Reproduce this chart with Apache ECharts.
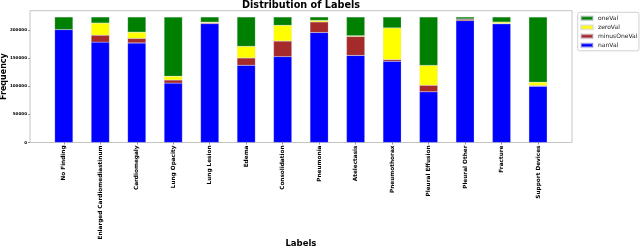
<!DOCTYPE html>
<html>
<head>
<meta charset="utf-8">
<script src="https://cdn.jsdelivr.net/npm/echarts@6/dist/echarts.min.js"></script>
<style>
html,body{margin:0;padding:0;background:#fff;}
#c{width:640px;height:248px;}
</style>
</head>
<body>
<div id="c"></div>
<script>
const categories = ['No Finding','Enlarged Cardiomediastinum','Cardiomegaly','Lung Opacity','Lung Lesion','Edema','Consolidation','Pneumonia','Atelectasis','Pneumothorax','Pleural Effusion','Pleural Other','Fracture','Support Devices'];
const nanVal      = [201033,178575,177211,105636,211470,137458,152792,195806,154971,144480, 90203,216922,211220,100197];
const minusOneVal = [     0, 12403,  8087,  5598,  1488, 12984, 27742, 18770, 33739,  3145, 11628,  2653,   642,  1079];
const zeroVal     = [     0, 21638, 11116,  6599,  1270, 20726, 28097,  2799,  1328, 56341, 35396,   316,  2512,  6137];
const oneVal      = [ 22381, 10798, 27000,105581,  9186, 52246, 14783,  6039, 33376, 19448, 86187,  3523,  9040,116001];
const yTicks = [0, 50000, 100000, 150000, 200000];
const yMax = 234585;

const FONT = 'DejaVu Sans';
const chart = echarts.init(document.getElementById('c'), null, {renderer: 'canvas'});

const barBorder = {borderColor: 'rgba(210,210,230,0.55)', borderWidth: 0.4};
function mk(name, data, color) {
  return {
    name: name, type: 'bar', stack: 'total', xAxisIndex: 1, yAxisIndex: 1,
    barWidth: '50%', data: data,
    itemStyle: Object.assign({color: color}, barBorder),
    emphasis: {disabled: true}, animation: false
  };
}

chart.setOption({
  animation: false,
  backgroundColor: '#ffffff',
  textStyle: {fontFamily: FONT},
  title: {
    text: 'Distribution of Labels', left: 242, top: 0.5, padding: 0,
    textStyle: {fontFamily: FONT, fontSize: 9.7, fontWeight: 'bold', color: '#000'}
  },
  legend: {
    orient: 'vertical', left: 577.7, top: 12.3, padding: [3, 1.5, 2.5, 2.3],
    data: ['oneVal', 'zeroVal', 'minusOneVal', 'nanVal'],
    icon: 'rect', itemWidth: 12, itemHeight: 4, itemGap: 3,
    borderColor: '#d0d0d0', borderWidth: 1, borderRadius: 2, backgroundColor: '#fff',
    textStyle: {fontFamily: FONT, fontSize: 6, color: '#222', lineHeight: 6},
    selectedMode: false
  },
  grid: [
    {left: 30, top: 10.7, width: 542, height: 131.8, show: true, borderColor: '#c4c4c4', borderWidth: 1, backgroundColor: 'transparent', containLabel: false, outerBoundsMode: 'none'},
    {left: 45.56, top: 10.7, width: 510.7, height: 131.8, containLabel: false, outerBoundsMode: 'none'}
  ],
  xAxis: [
    {type: 'value', gridIndex: 0, show: false, min: 0, max: 1},
    {
      type: 'category', gridIndex: 1, data: categories,
      axisLine: {show: false},
      axisTick: {show: true, alignWithLabel: true, length: 2, lineStyle: {color: '#777', width: 0.8}},
      axisLabel: {rotate: 90, fontFamily: FONT, fontSize: 5.75, fontWeight: 'bold', color: '#000', margin: 3, interval: 0, hideOverlap: false},
      name: 'Labels', nameLocation: 'middle', nameGap: 97, nameMoveOverlap: false,
      nameTextStyle: {fontFamily: FONT, fontSize: 8.5, fontWeight: 'bold', color: '#000'}
    }
  ],
  yAxis: [
    {
      type: 'value', gridIndex: 0, min: 0, max: yMax, interval: 50000,
      axisLine: {show: false}, splitLine: {show: false},
      axisTick: {show: true, length: 2, customValues: yTicks, lineStyle: {color: '#777', width: 0.8}},
      axisLabel: {customValues: yTicks, formatter: function (v) { return String(v); }, fontFamily: FONT, fontSize: 4.1, fontWeight: 'bold', color: '#000', margin: 3},
      name: 'Frequency', nameLocation: 'middle', nameRotate: 90, nameGap: 22.5, nameMoveOverlap: false,
      nameTextStyle: {fontFamily: FONT, fontSize: 8, fontWeight: 'bold', color: '#000'}
    },
    {type: 'value', gridIndex: 1, min: 0, max: yMax, show: false, splitLine: {show: false}}
  ],
  series: [
    mk('nanVal', nanVal, '#0000ff'),
    mk('minusOneVal', minusOneVal, '#a52a2a'),
    mk('zeroVal', zeroVal, '#ffff00'),
    mk('oneVal', oneVal, '#008000')
  ]
});
</script>
</body>
</html>
